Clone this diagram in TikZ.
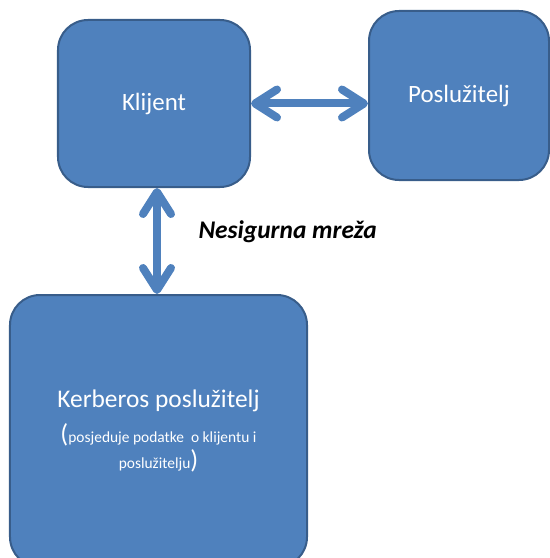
\documentclass[tikz,border=0pt]{standalone}
\usepackage{fontspec}
\setmainfont{Carlito}
\usepackage{xcolor}
\usetikzlibrary{arrows.meta}
\definecolor{boxblue}{HTML}{4F81BD}
\definecolor{boxedge}{HTML}{385D8A}
\begin{document}
\begin{tikzpicture}[
  x=1bp,y=-1bp,
  font=\fontsize{25}{30}\selectfont,
  box/.style={draw=boxedge,line width=2bp,fill=boxblue,rounded corners=30bp,
    text=white,align=center,inner sep=0pt},
  link/.style={draw=boxblue,line width=8bp,
    {Straight Barb[round,length=22bp,width=28bp]}-{Straight Barb[round,length=22bp,width=28bp]}}
]
\clip (0,0) rectangle (550,558);
\node[box,minimum width=192bp,minimum height=167bp] (klijent) at (154,103.5) {Klijent};
\node[box,minimum width=180bp,minimum height=169bp] (posluzitelj) at (459,95.5) {Poslužitelj};
\node[box,minimum width=297bp,minimum height=272bp,font=\fontsize{25.5}{35}\selectfont] (kerberos) at (158.5,431)
  {Kerberos poslužitelj\\
   {\fontsize{26}{35}\selectfont(}{\fontsize{15.5}{35}\selectfont posjeduje podatke\ \ o klijentu i}\\[-9bp]
   {\fontsize{15.5}{35}\selectfont poslužitelju}{\fontsize{26}{35}\selectfont)}};
\draw[link] (klijent.east) -- (posluzitelj.west |- klijent.east);
\draw[link] (klijent.south -| 157,0) -- (kerberos.north -| 157,0);
\node[font=\fontsize{25.5}{30}\selectfont\bfseries\itshape,anchor=west] (mreza) at (195,232) {Nesigurna mreža};
\end{tikzpicture}
\end{document}
